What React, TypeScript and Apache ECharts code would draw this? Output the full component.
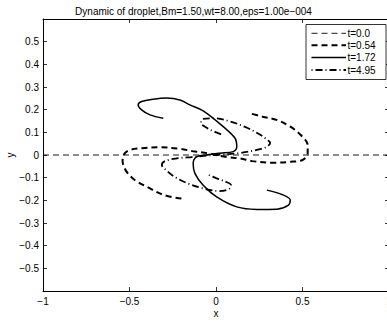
import React, { useEffect, useRef } from "react";
import * as echarts from "echarts";

const TITLE = "Dynamic of droplet,Bm=1.50,wt=8.00,eps=1.00e\u2212004";
const LEGEND_LABELS = ["t=0.0", "t=0.54", "t=1.72", "t=4.95"];

// t = 0.0 : straight thread
const t00X = [-1, 1];
const t00Y = [0, 0];

// t = 0.54 : bold dashed S
const t054X = [-0.2, -0.3, -0.4, -0.47, -0.52, -0.54, -0.53, -0.5, -0.43, -0.33, -0.21, -0.12, -0.05, 0, 0.06, 0.14, 0.21, 0.33, 0.43, 0.5, 0.53, 0.53, 0.49, 0.43, 0.35, 0.27, 0.19];
const t054Y = [-0.192, -0.177, -0.14, -0.11, -0.07, -0.025, 0.005, 0.022, 0.03, 0.034, 0.027, 0.015, 0.008, 0, -0.009, -0.015, -0.027, -0.034, -0.03, -0.022, 0.008, 0.044, 0.088, 0.125, 0.155, 0.169, 0.185];

// t = 1.72 : solid S
const t172X = [-0.305, -0.382, -0.43, -0.45, -0.43, -0.363, -0.286, -0.209, -0.151, -0.074, 0.042, 0.11, 0.12, 0.1, 0.023, -0.054, -0.112, -0.132, -0.122, -0.074, 0.004, 0.12, 0.236, 0.352, 0.419, 0.429, 0.39, 0.294];
const t172Y = [0.162, 0.177, 0.199, 0.221, 0.236, 0.246, 0.251, 0.243, 0.221, 0.195, 0.125, 0.074, 0.037, 0.015, 0.008, 0.0, -0.008, -0.037, -0.081, -0.133, -0.185, -0.229, -0.24, -0.239, -0.221, -0.199, -0.177, -0.155];

// t = 4.95 : dash-dot curled S
const t495X = [-0.041, 0.0, 0.046, 0.087, 0.075, 0.017, -0.081, -0.168, -0.238, -0.29, -0.313, -0.295, -0.226, -0.139, -0.07, 0, 0.07, 0.139, 0.232, 0.29, 0.313, 0.29, 0.238, 0.168, 0.081, -0.006, -0.075, -0.087, -0.052, -0.006, 0.041];
const t495Y = [-0.088, -0.102, -0.115, -0.133, -0.15, -0.159, -0.146, -0.124, -0.097, -0.066, -0.044, -0.027, -0.015, -0.009, -0.004, 0, 0.004, 0.009, 0.022, 0.035, 0.053, 0.071, 0.097, 0.124, 0.148, 0.162, 0.159, 0.142, 0.119, 0.102, 0.088];

const FONT = "Liberation Sans, Arial, Helvetica, sans-serif";

const pairs = (xs: number[], ys: number[]) => xs.map((x, i) => [x, ys[i]]);

const fmt = (v: number) => {
  const r = Math.round(v * 100) / 100;
  return String(r).replace("-", "\u2212");
};

const STYLES = [
  { width: 0.9, type: [6, 4] as number[] | string },
  { width: 2, type: [6, 4] as number[] | string },
  { width: 1.5, type: "solid" as number[] | string },
  { width: 1.8, type: [1, 3, 7, 3] as number[] | string },
];

export default function App() {
  const ref = useRef<HTMLDivElement>(null);
  useEffect(() => {
    if (!ref.current) return;
    const chart = echarts.init(ref.current, undefined, { renderer: "svg" });
    const data = [pairs(t00X, t00Y), pairs(t054X, t054Y), pairs(t172X, t172Y), pairs(t495X, t495Y)];
    const gridLeft = 43, gridTop = 19, gridW = 346, gridH = 272;
    const axisCommon = {
      type: "value" as const,
      splitLine: { show: false },
      axisLine: { show: true, onZero: false, lineStyle: { color: "#000", width: 1 } },
      axisTick: { show: true, inside: true, length: 4, lineStyle: { color: "#000", width: 0.8 } },
    };
    const legendRows = [33.3, 45.3, 57.5, 70];
    const legendGraphics: any[] = [
      {
        type: "rect",
        shape: { x: 306, y: 24.5, width: 80, height: 55 },
        style: { fill: "#fff", stroke: "#000", lineWidth: 0.8 },
        z: 100,
      },
    ];
    LEGEND_LABELS.forEach((lab, i) => {
      const st = STYLES[i];
      legendGraphics.push({
        type: "line",
        shape: { x1: 311.5, y1: legendRows[i], x2: 346, y2: legendRows[i] },
        style: {
          stroke: "#000",
          lineWidth: st.width,
          lineDash: Array.isArray(st.type) ? st.type : null,
        },
        z: 101,
      });
      legendGraphics.push({
        type: "text",
        x: 347.5,
        y: legendRows[i],
        style: {
          text: lab,
          font: `10px ${FONT}`,
          fill: "#000",
          align: "left",
          verticalAlign: "middle",
          textAlign: "left",
          textVerticalAlign: "middle",
        },
        z: 101,
      });
    });
    chart.setOption({
      animation: false,
      backgroundColor: "#fff",
      title: {
        text: TITLE,
        left: "center",
        top: 1,
        textStyle: { fontFamily: FONT, fontSize: 10, fontWeight: "normal", color: "#000" },
      },
      grid: { left: gridLeft, top: gridTop, width: gridW, height: gridH, outerBoundsMode: "none", containLabel: false },
      xAxis: [
        {
          ...axisCommon,
          position: "bottom",
          min: -1,
          max: 1,
          interval: 0.5,
          axisLabel: { fontFamily: FONT, fontSize: 10, color: "#000", margin: 5, formatter: (v: number) => fmt(v) },
        },
        {
          ...axisCommon,
          position: "top",
          min: -1,
          max: 1,
          interval: 0.5,
          axisLabel: { show: false },
        },
      ],
      yAxis: [
        {
          ...axisCommon,
          position: "left",
          min: -0.6,
          max: 0.6,
          interval: 0.1,
          axisLabel: {
            fontFamily: FONT,
            fontSize: 10,
            color: "#000",
            margin: 4,
            formatter: (v: number) => (Math.abs(v) > 0.55 ? "" : fmt(v)),
          },
        },
        {
          ...axisCommon,
          position: "right",
          min: -0.6,
          max: 0.6,
          interval: 0.1,
          axisLabel: { show: false },
        },
      ],
      series: data.map((d, i) => ({
        type: "line",
        name: LEGEND_LABELS[i],
        data: d,
        xAxisIndex: 0,
        yAxisIndex: 0,
        symbol: "none",
        smooth: i === 0 ? false : 0.35,
        lineStyle: { color: "#000", width: STYLES[i].width, type: STYLES[i].type },
        z: 2 + i,
      })),
      graphic: [
        ...legendGraphics,
        {
          type: "text",
          x: 216,
          y: 313,
          style: { text: "x", font: `10px ${FONT}`, fill: "#000", align: "center", verticalAlign: "middle", textAlign: "center", textVerticalAlign: "middle" },
        },
        {
          type: "text",
          x: 10,
          y: 155,
          rotation: Math.PI / 2,
          style: { text: "y", font: `10px ${FONT}`, fill: "#000", align: "center", verticalAlign: "middle", textAlign: "center", textVerticalAlign: "middle" },
        },
      ],
    });
    return () => chart.dispose();
  }, []);
  return <div ref={ref} style={{ position: "fixed", left: 0, top: 0, width: 387, height: 322 }} />;
}
